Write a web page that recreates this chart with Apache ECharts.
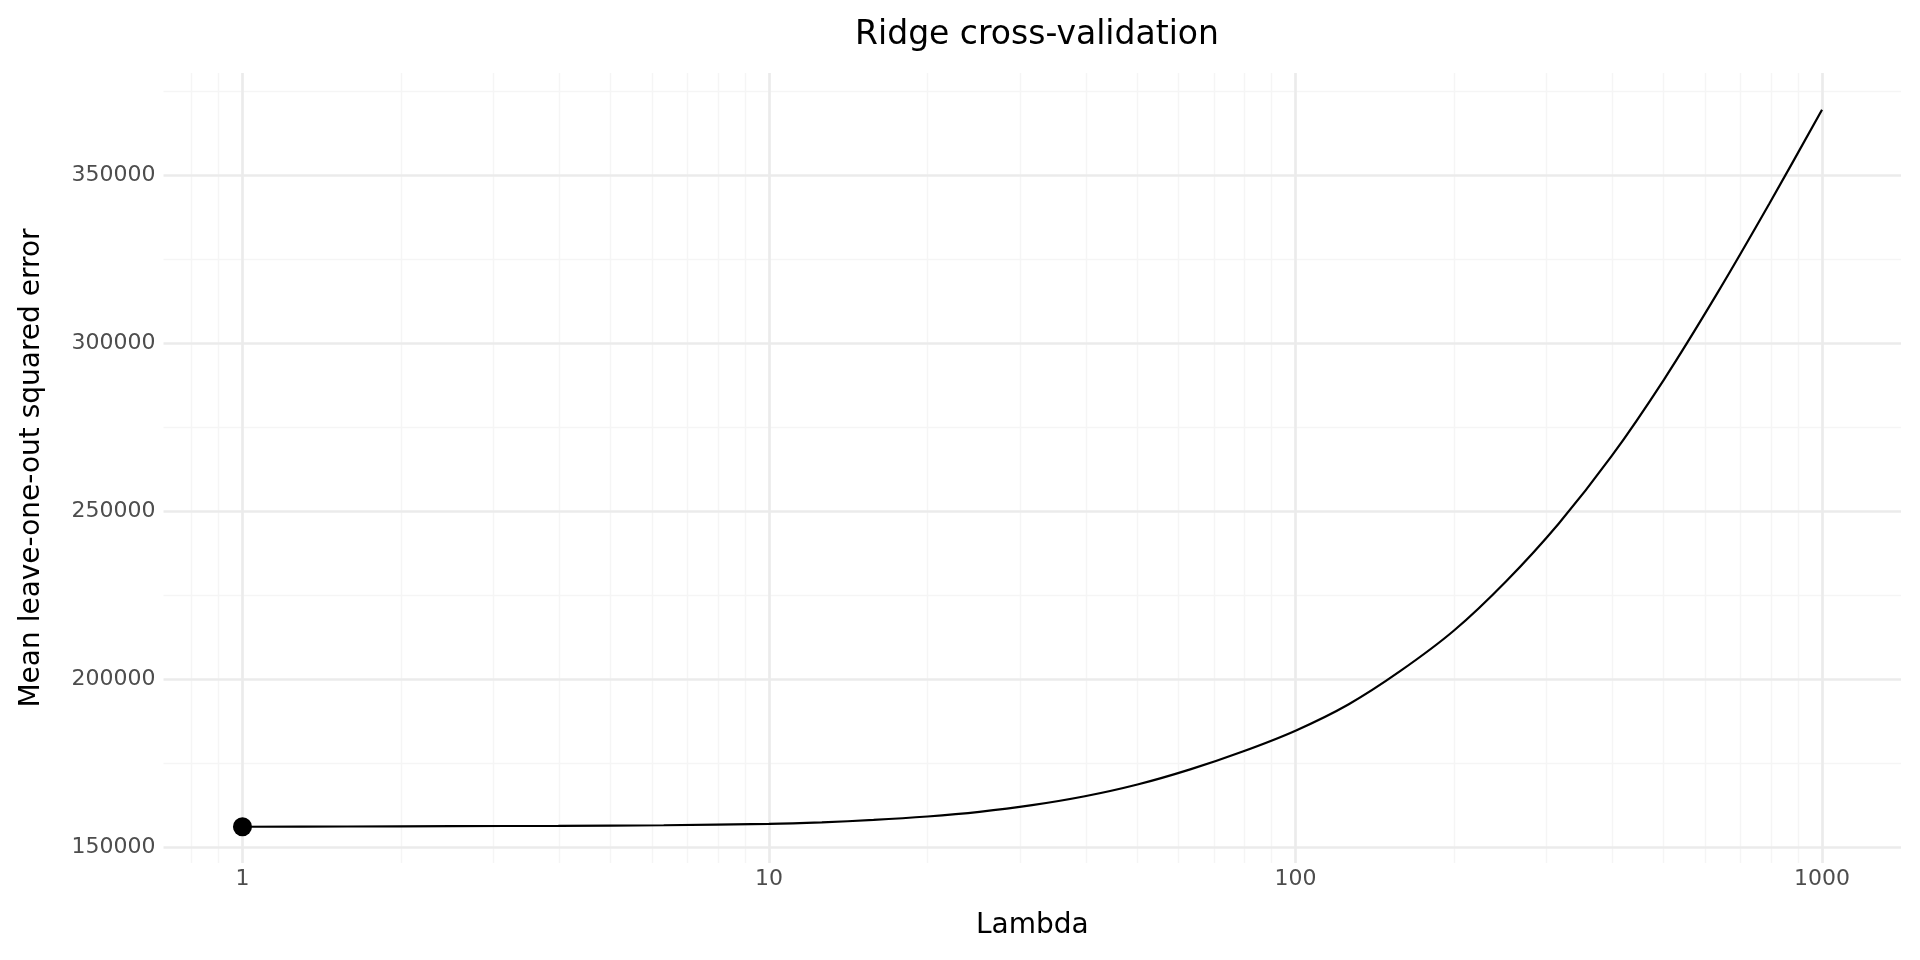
<!DOCTYPE html>
<html lang="en">

<head>
  <meta charset="UTF-8">
  <meta name="viewport" content="width=device-width, initial-scale=1.0">
  <title>Ridge cross-validation</title>
  <style>
    html, body {
      margin: 0;
      padding: 0;
      background: #fff;
    }

    #main {
      width: 1920px;
      height: 960px;
    }
  </style>
</head>

<body>
  <div id="main"></div>
  <script src="https://cdn.jsdelivr.net/npm/echarts@6/dist/echarts.min.js"></script>
  <script>
    // values, at roughly even steps of log10(lambda)
    var lambdas = [1, 1.58, 2.51, 3.98, 6.31, 10, 12.6, 15.8, 20, 25.1, 31.6, 39.8, 50.1, 63.1, 79.4,
      100, 126, 158, 200, 251, 316, 398, 501, 631, 794, 1000];
    var looError = [156000, 156080, 156180, 156280, 156450, 156850, 157320, 158020, 159050, 160440,
      162420, 165070, 168570, 173080, 178400, 184600, 192400, 202300, 214400, 229000,
      246200, 266200, 289100, 314500, 341400, 369400];
    var bestLambda = [1];
    var bestError = [156000];

    var xBreaks = [1, 10, 100, 1000];
    var xMinorBreaks = [0.8, 0.9, 2, 3, 4, 5, 6, 7, 8, 9, 20, 30, 40, 50, 60, 70, 80, 90,
      200, 300, 400, 500, 600, 700, 800, 900];
    var yBreaks = [150000, 200000, 250000, 300000, 350000];
    var yMinorBreaks = [175000, 225000, 275000, 325000, 375000];

    var log10 = function (v) { return Math.log10(v); };
    var xMin = -0.15, xMax = 3.15;
    var yMin = 145213, yMax = 380327;

    var myChart = echarts.init(document.getElementById('main'));
    var font = 'DejaVu Sans';
    var gridColor = '#EBEBEB';
    var minorColor = '#F5F5F5';

    var curve = lambdas.map(function (l, i) { return [log10(l), looError[i]]; });
    var best = bestLambda.map(function (l, i) { return [log10(l), bestError[i]]; });

    var option = {
      animation: false,
      backgroundColor: '#fff',
      textStyle: { fontFamily: font },
      title: {
        text: 'Ridge cross-validation',
        left: 1032,
        top: 14,
        textAlign: 'center',
        textStyle: { fontFamily: font, fontSize: 33, fontWeight: 'normal', color: '#000' }
      },
      grid: {
        left: 163.5,
        right: 19,
        top: 73,
        bottom: 97,
        outerBoundsMode: 'none'
      },
      xAxis: [{
        // minor grid
        type: 'value', min: xMin, max: xMax, z: 0, position: 'bottom',
        axisLine: { show: false }, axisLabel: { show: false },
        axisTick: { show: false, customValues: xMinorBreaks.map(log10) },
        splitLine: { show: true, lineStyle: { color: minorColor, width: 1.4 } }
      }, {
        type: 'value', min: xMin, max: xMax, z: 1, position: 'bottom',
        name: 'Lambda',
        nameLocation: 'middle',
        nameGap: 49,
        nameTextStyle: { fontFamily: font, fontSize: 28, color: '#000' },
        axisLine: { show: false },
        axisTick: { show: false, customValues: xBreaks.map(log10) },
        axisLabel: {
          customValues: xBreaks.map(log10),
          margin: 5,
          fontFamily: font, fontSize: 22, color: '#4D4D4D',
          formatter: function (v) { return String(Math.round(Math.pow(10, v))); }
        },
        splitLine: { show: true, lineStyle: { color: gridColor, width: 2.7 } }
      }],
      yAxis: [{
        type: 'value', min: yMin, max: yMax, z: 0, position: 'left',
        axisLine: { show: false }, axisLabel: { show: false },
        axisTick: { show: false, customValues: yMinorBreaks },
        splitLine: { show: true, lineStyle: { color: minorColor, width: 1.4 } }
      }, {
        type: 'value', min: yMin, max: yMax, z: 1, position: 'left',
        name: 'Mean leave-one-out squared error',
        nameLocation: 'middle',
        nameGap: 118,
        nameTextStyle: { fontFamily: font, fontSize: 28, color: '#000' },
        axisLine: { show: false },
        axisTick: { show: false, customValues: yBreaks },
        axisLabel: {
          customValues: yBreaks,
          margin: 8,
          fontFamily: font, fontSize: 22, color: '#4D4D4D',
          formatter: function (v) { return String(v); }
        },
        splitLine: { show: true, lineStyle: { color: gridColor, width: 2.7 } }
      }],
      series: [{
        type: 'line',
        name: 'LOO error',
        xAxisIndex: 1,
        yAxisIndex: 1,
        data: curve,
        showSymbol: false,
        smooth: 0.3,
        lineStyle: { color: '#000', width: 2.2 },
        z: 3
      }, {
        type: 'scatter',
        name: 'best',
        xAxisIndex: 1,
        yAxisIndex: 1,
        data: best,
        symbolSize: 19,
        itemStyle: { color: '#000', opacity: 1 },
        z: 4
      }]
    };

    option && myChart.setOption(option);
  </script>
</body>

</html>
